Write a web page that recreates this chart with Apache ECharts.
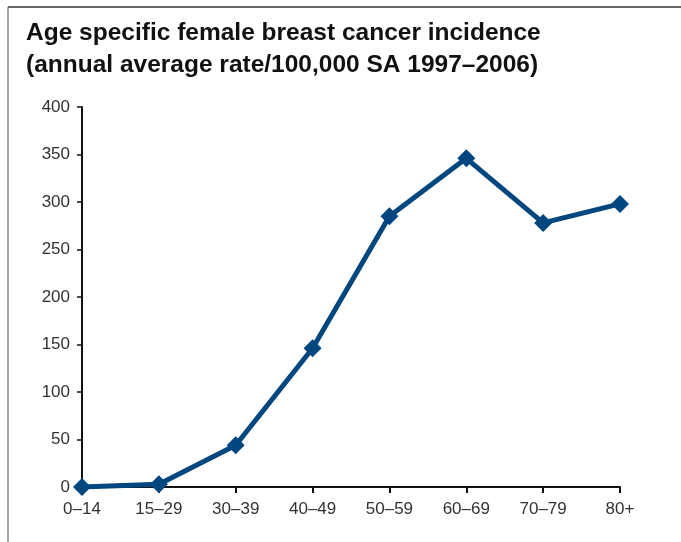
<!DOCTYPE html>
<html><head><meta charset="utf-8">
<script src="https://cdn.jsdelivr.net/npm/echarts@6/dist/echarts.min.js"></script>
<style>html,body{margin:0;padding:0;background:#fff}#c{width:681px;height:542px}</style>
</head><body><div id="c"></div>
<script>
const categories = ['0–14','15–29','30–39','40–49','50–59','60–69','70–79','80+'];
const rates = [0, 3, 44, 146, 285, 346, 278, 298];
const yTicks = {min: 0, max: 400, interval: 50};
const titleLines = ['Age specific female breast cancer incidence', '(annual average rate/100,000 SA 1997–2006)'];

const chart = echarts.init(document.getElementById('c'));
chart.setOption({
  animation: false,
  backgroundColor: '#fff',
  title: {
    text: titleLines.join('\n'),
    left: 21, top: 12,
    textStyle: {fontFamily: 'Liberation Sans', fontWeight: 'bold', fontSize: 24.5, lineHeight: 32, color: '#111'}
  },
  graphic: [
    {type: 'line', shape: {x1: 8, y1: 7, x2: 681, y2: 7}, style: {stroke: '#333', lineWidth: 1.5}},
    {type: 'line', shape: {x1: 8, y1: 7, x2: 8, y2: 542}, style: {stroke: '#888', lineWidth: 1.5}}
  ],
  grid: {left: 82, right: 61, top: 107, bottom: 55},
  xAxis: {
    type: 'category', data: categories, boundaryGap: false,
    axisLine: {lineStyle: {color: '#111', width: 2}},
    axisTick: {alignWithLabel: true, length: 6, lineStyle: {color: '#111', width: 2}},
    axisLabel: {fontFamily: 'Liberation Sans', fontSize: 17, color: '#333', margin: 14}
  },
  yAxis: {
    type: 'value', min: yTicks.min, max: yTicks.max, interval: yTicks.interval,
    splitLine: {show: false},
    axisLine: {show: true, lineStyle: {color: '#111', width: 2}},
    axisTick: {show: true, length: 5, lineStyle: {color: '#111', width: 1.5}},
    axisLabel: {fontFamily: 'Liberation Sans', fontSize: 17, color: '#333', margin: 12}
  },
  series: [{
    type: 'line', data: rates,
    symbol: 'diamond', symbolSize: 18,
    lineStyle: {color: '#00467f', width: 5},
    itemStyle: {color: '#00467f'}
  }]
});
</script></body></html>
